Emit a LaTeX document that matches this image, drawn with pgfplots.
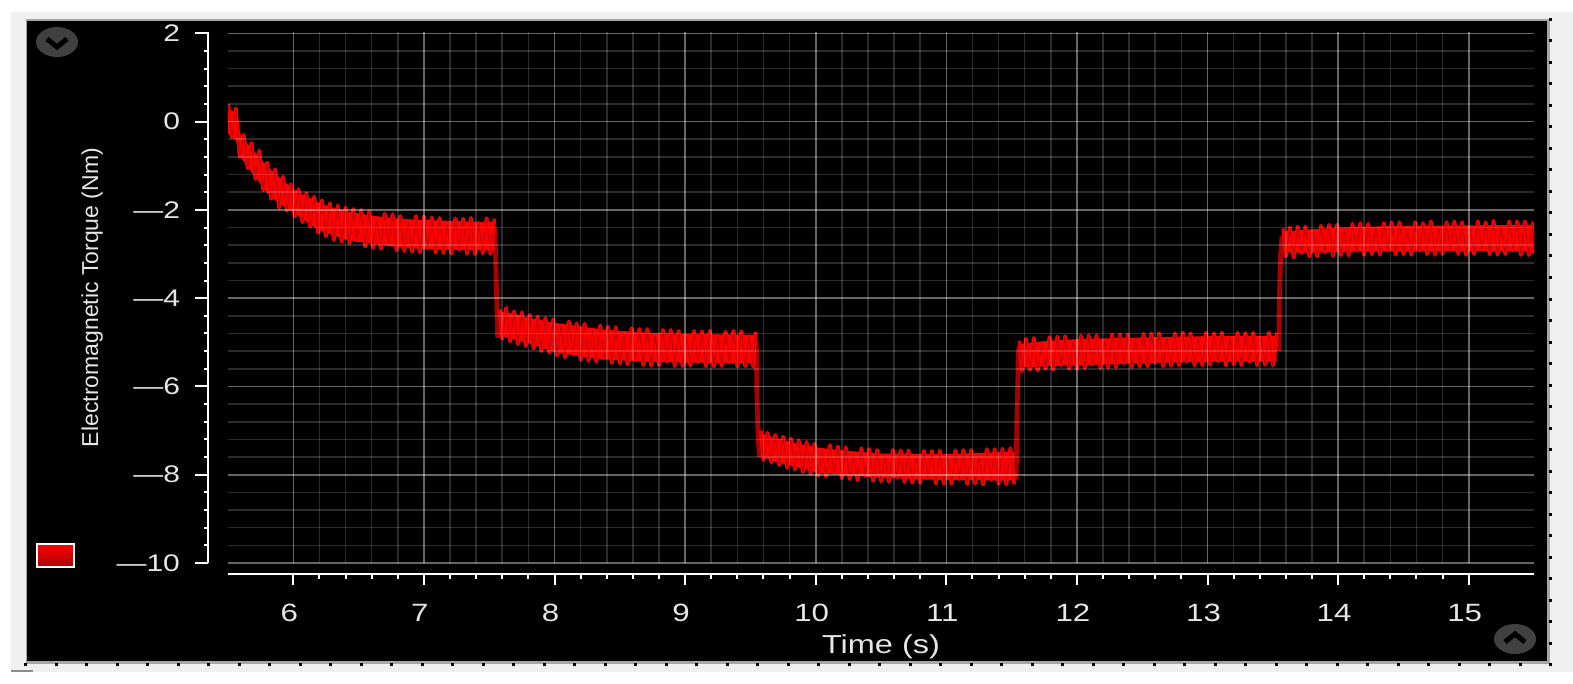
\documentclass[border=0pt]{standalone}
\usepackage{pgfplots}
\usepackage{pgfplotstable}
\usepackage{fontspec}
\pgfplotsset{compat=1.18}
\setmainfont{Liberation Sans}
\newfontfamily\tickfont[FakeStretch=1.25]{Liberation Sans}
\newfontfamily\ylabfont{Liberation Sans}
\definecolor{tq}{HTML}{FF0000}
\definecolor{tqd}{HTML}{A80000}
\definecolor{lab}{HTML}{E6E6E6}
\pgfplotstableread[row sep=\\]{t y\\
5.50 .40\\5.53 -.35\\5.56 .30\\5.59 -.80\\5.62 -.30\\5.65 -1.05\\5.68 -.48\\5.71 -1.30\\5.74 -.66\\5.77 -1.55\\5.80 -.93\\5.83 -1.75\\5.86 -1.08\\5.89 -1.95\\5.92 -1.25\\5.95 -2.02\\5.98 -1.42\\6.01 -2.15\\6.04 -1.53\\6.07 -2.28\\6.10 -1.62\\6.13 -2.38\\6.16 -1.70\\6.19 -2.52\\6.22 -1.78\\6.25 -2.60\\6.28 -1.85\\6.31 -2.68\\6.34 -1.90\\6.37 -2.72\\6.40 -1.95\\6.43 -2.76\\6.46 -1.98\\6.49 -2.70\\6.52 -2.00\\6.55 -2.83\\6.58 -2.04\\6.61 -2.86\\6.64 -2.22\\6.67 -2.88\\6.70 -2.08\\6.73 -2.78\\6.76 -2.10\\6.79 -2.92\\6.82 -2.14\\6.85 -2.93\\6.88 -2.28\\6.91 -2.95\\6.94 -2.14\\6.97 -2.96\\7.00 -2.15\\7.03 -2.85\\7.06 -2.17\\7.09 -2.97\\7.12 -2.18\\7.15 -2.98\\7.18 -2.32\\7.21 -2.99\\7.24 -2.19\\7.27 -2.90\\7.30 -2.20\\7.33 -2.99\\7.36 -2.18\\7.39 -3.00\\7.42 -2.30\\7.45 -2.98\\7.48 -2.19\\7.51 -3.00\\7.54 -2.20\\
}\segA
\pgfplotstableread[row sep=\\]{t y\\
7.58 -4.25\\7.60 -4.92\\7.63 -4.22\\7.66 -4.98\\7.69 -4.30\\7.72 -5.04\\7.75 -4.32\\7.78 -5.08\\7.81 -4.38\\7.84 -5.14\\7.87 -4.42\\7.90 -5.20\\7.93 -4.45\\7.96 -5.24\\7.99 -4.48\\8.02 -5.30\\8.05 -4.62\\8.08 -5.34\\8.11 -4.53\\8.14 -5.25\\8.17 -4.57\\8.20 -5.40\\8.23 -4.58\\8.26 -5.42\\8.29 -4.72\\8.32 -5.44\\8.35 -4.62\\8.38 -5.36\\8.41 -4.65\\8.44 -5.47\\8.47 -4.66\\8.50 -5.48\\8.53 -4.80\\8.56 -5.50\\8.59 -4.68\\8.62 -5.40\\8.65 -4.70\\8.68 -5.52\\8.71 -4.70\\8.74 -5.53\\8.77 -4.85\\8.80 -5.52\\8.83 -4.72\\8.86 -5.44\\8.89 -4.72\\8.92 -5.54\\8.95 -4.74\\8.98 -5.54\\9.01 -4.88\\9.04 -5.53\\9.07 -4.74\\9.10 -5.45\\9.13 -4.75\\9.16 -5.54\\9.19 -4.74\\9.22 -5.55\\9.25 -4.86\\9.28 -5.53\\9.31 -4.76\\9.34 -5.46\\9.37 -4.74\\9.40 -5.55\\9.43 -4.75\\9.46 -5.54\\9.49 -4.88\\9.52 -5.55\\9.54 -4.76\\
}\segB
\pgfplotstableread[row sep=\\]{t y\\
9.58 -7.00\\9.60 -7.66\\9.63 -7.05\\9.66 -7.72\\9.69 -7.10\\9.72 -7.78\\9.75 -7.14\\9.78 -7.84\\9.81 -7.18\\9.84 -7.88\\9.87 -7.22\\9.90 -7.94\\9.93 -7.26\\9.96 -7.98\\9.99 -7.30\\10.02 -8.02\\10.05 -7.44\\10.08 -8.04\\10.11 -7.33\\10.14 -7.96\\10.17 -7.36\\10.20 -8.08\\10.23 -7.38\\10.26 -8.10\\10.29 -7.52\\10.32 -8.12\\10.35 -7.40\\10.38 -8.02\\10.41 -7.42\\10.44 -8.14\\10.47 -7.44\\10.50 -8.15\\10.53 -7.58\\10.56 -8.16\\10.59 -7.44\\10.62 -8.06\\10.65 -7.45\\10.68 -8.17\\10.71 -7.45\\10.74 -8.18\\10.77 -7.60\\10.80 -8.18\\10.83 -7.46\\10.86 -8.08\\10.89 -7.46\\10.92 -8.20\\10.95 -7.45\\10.98 -8.20\\11.01 -7.60\\11.04 -8.20\\11.07 -7.45\\11.10 -8.10\\11.13 -7.44\\11.16 -8.21\\11.19 -7.44\\11.22 -8.20\\11.25 -7.58\\11.28 -8.22\\11.31 -7.42\\11.34 -8.10\\11.37 -7.42\\11.40 -8.21\\11.43 -7.41\\11.46 -8.22\\11.49 -7.40\\11.52 -8.22\\
}\segC
\pgfplotstableread[row sep=\\]{t y\\
11.56 -4.97\\11.58 -5.65\\11.61 -4.92\\11.64 -5.62\\11.67 -4.90\\11.70 -5.64\\11.73 -5.02\\11.76 -5.60\\11.79 -4.88\\11.82 -5.62\\11.85 -4.87\\11.88 -5.52\\11.91 -4.86\\11.94 -5.60\\11.97 -4.98\\12.00 -5.60\\12.03 -4.85\\12.06 -5.58\\12.09 -4.84\\12.12 -5.50\\12.15 -4.84\\12.18 -5.58\\12.21 -4.96\\12.24 -5.57\\12.27 -4.82\\12.30 -5.56\\12.33 -4.82\\12.36 -5.48\\12.39 -4.82\\12.42 -5.56\\12.45 -4.94\\12.48 -5.55\\12.51 -4.81\\12.54 -5.54\\12.57 -4.80\\12.60 -5.46\\12.63 -4.80\\12.66 -5.54\\12.69 -4.92\\12.72 -5.53\\12.75 -4.80\\12.78 -5.52\\12.81 -4.78\\12.84 -5.44\\12.87 -4.80\\12.90 -5.52\\12.93 -4.92\\12.96 -5.52\\12.99 -4.78\\13.02 -5.51\\13.05 -4.80\\13.08 -5.43\\13.11 -4.78\\13.14 -5.52\\13.17 -4.92\\13.20 -5.50\\13.23 -4.78\\13.26 -5.52\\13.29 -4.79\\13.32 -5.44\\13.35 -4.78\\13.38 -5.52\\13.41 -4.90\\13.44 -5.51\\13.47 -4.78\\13.50 -5.52\\13.53 -4.78\\
}\segD
\pgfplotstableread[row sep=\\]{t y\\
13.58 -2.42\\13.60 -3.05\\13.63 -2.40\\13.66 -3.08\\13.69 -2.38\\13.72 -2.98\\13.75 -2.38\\13.78 -3.06\\13.81 -2.48\\13.84 -3.05\\13.87 -2.36\\13.90 -2.96\\13.93 -2.34\\13.96 -3.04\\13.99 -2.34\\14.02 -3.02\\14.05 -2.44\\14.08 -3.03\\14.11 -2.32\\14.14 -2.92\\14.17 -2.30\\14.20 -3.02\\14.23 -2.32\\14.26 -3.00\\14.29 -2.42\\14.32 -3.02\\14.35 -2.30\\14.38 -2.92\\14.41 -2.28\\14.44 -3.01\\14.47 -2.28\\14.50 -3.00\\14.53 -2.42\\14.56 -3.02\\14.59 -2.28\\14.62 -2.92\\14.65 -2.30\\14.68 -3.00\\14.71 -2.26\\14.74 -3.02\\14.77 -2.40\\14.80 -3.00\\14.83 -2.28\\14.86 -2.90\\14.89 -2.26\\14.92 -3.00\\14.95 -2.28\\14.98 -3.02\\15.01 -2.40\\15.04 -3.00\\15.07 -2.26\\15.10 -2.90\\15.13 -2.28\\15.16 -3.00\\15.19 -2.25\\15.22 -3.02\\15.25 -2.38\\15.28 -3.00\\15.31 -2.26\\15.34 -2.92\\15.37 -2.26\\15.40 -3.02\\15.43 -2.26\\15.46 -3.02\\15.49 -2.30\\15.50 -3.00\\
}\segE
\begin{document}
\begin{tikzpicture}
\begin{scope}[x=0.5pt,y=-0.5pt]
\useasboundingbox (0,0) rectangle (1573,684);
\fill[white] (0,0) rectangle (1573,684);
\fill[black!6] (11,12) rectangle (1573,672);
\fill[black!45] (11,670) rectangle (33,672);
\fill[black!35] (26,19) rectangle (1550,664);
\fill[black] (27,21) rectangle (1547,661);
\foreach \i in {0,...,49}{\fill[black] ({24+30.5*\i},663) rectangle ++(3,3);}
\foreach \i in {0,...,30}{\fill[black] (1549,{664-21.5*\i-1}) rectangle ++(3,3);}
% scroll buttons
\fill[black!75!white] (57,42) ellipse (21 and 15);
\draw[black,line width=2.5pt] (47,39) -- (57,47) -- (67,39);
\fill[black!75!white] (1515,639) ellipse (21 and 15);
\draw[black,line width=2.5pt] (1505,642) -- (1515,634) -- (1525,642);
% colour swatch
\shade[top color=red,middle color=red,bottom color=tqd,draw=white,line width=1pt] (37,544) rectangle (74,567);
\end{scope}
% main plot
\begin{axis}[at={(114pt,-281.5pt)},anchor=south west,scale only axis,width=653pt,height=265.5pt,
  xmin=5.5,xmax=15.5,ymin=-10,ymax=2.03,
  xtick={6,...,15},ytick={-10,-8,...,2},minor x tick num=4,minor y tick num=4,
  xticklabels={},yticklabels={},
  major tick length=0pt,minor tick length=0pt,
  grid=both,axis on top,axis line style={draw=none},
  major grid style={draw=white,opacity=0.4,line width=0.8pt},
  minor grid style={draw=white,opacity=0.17,line width=0.8pt},
  every axis plot/.append style={line join=round},
  clip=true]
\addplot[tqd,line width=2.4pt] coordinates {(7.545,-2.4)(7.55,-3.2)(7.56,-4.3)(7.565,-4.9)};
\addplot[tqd,line width=2.4pt] coordinates {(9.545,-5.0)(9.55,-6.2)(9.56,-7.2)(9.57,-7.6)};
\addplot[tqd,line width=2.4pt] coordinates {(11.535,-8.1)(11.54,-6.8)(11.55,-5.6)(11.555,-5.1)};
\addplot[tqd,line width=2.4pt] coordinates {(13.545,-5.2)(13.55,-4.0)(13.56,-3.0)(13.57,-2.6)};
% solid body of the band, from its upper and lower envelope
\addplot[fill=tq,draw=none] coordinates {(5.5,.3)(5.56,.2)(5.6,-.33)(5.7,-.68)(5.8,-1.01)(5.9,-1.28)(6,-1.53)(6.1,-1.7)(6.2,-1.84)(6.3,-1.95)(6.4,-2.03)(6.6,-2.13)(6.8,-2.2)(7,-2.23)(7.54,-2.28)(7.54,-2.92)(7,-2.89)(6.8,-2.84)(6.6,-2.77)(6.4,-2.67)(6.3,-2.57)(6.2,-2.47)(6.1,-2.27)(6,-2.05)(5.9,-1.87)(5.8,-1.62)(5.7,-1.22)(5.6,-.82)(5.56,-.42)(5.5,-.27)} -- cycle;
\addplot[fill=tq,draw=none] coordinates {(7.58,-4.3)(7.7,-4.36)(7.8,-4.44)(8,-4.56)(8.2,-4.64)(8.4,-4.72)(8.7,-4.78)(9,-4.81)(9.54,-4.83)(9.54,-5.47)(9,-5.46)(8.7,-5.44)(8.4,-5.39)(8.2,-5.32)(8,-5.22)(7.8,-5.02)(7.7,-4.94)(7.58,-4.84)} -- cycle;
\addplot[fill=tq,draw=none] coordinates {(9.58,-7.07)(9.7,-7.17)(9.85,-7.29)(10,-7.38)(10.2,-7.45)(10.5,-7.52)(11,-7.53)(11.52,-7.48)(11.52,-8.13)(11,-8.12)(10.5,-8.07)(10.2,-8.0)(10,-7.94)(9.85,-7.82)(9.7,-7.72)(9.58,-7.58)} -- cycle;
\addplot[fill=tq,draw=none] coordinates {(11.56,-5.04)(11.8,-4.96)(12,-4.93)(12.5,-4.89)(13,-4.86)(13.53,-4.86)(13.53,-5.44)(13,-5.44)(12.5,-5.47)(12,-5.52)(11.8,-5.54)(11.56,-5.57)} -- cycle;
\addplot[fill=tq,draw=none] coordinates {(13.58,-2.49)(13.8,-2.44)(14,-2.4)(14.5,-2.36)(15,-2.35)(15.5,-2.34)(15.5,-2.93)(15,-2.93)(14.5,-2.93)(14,-2.95)(13.8,-2.97)(13.58,-2.97)} -- cycle;
% the oscillating trace
\addplot[tq,line width=1.9pt] table {\segA};
\addplot[tq,line width=1.9pt] table {\segB};
\addplot[tq,line width=1.9pt] table {\segC};
\addplot[tq,line width=1.9pt] table {\segD};
\addplot[tq,line width=1.9pt] table {\segE};
\addplot[tqd,line width=0.45pt,opacity=0.7] table {\segA};
\addplot[tqd,line width=0.45pt,opacity=0.7] table {\segB};
\addplot[tqd,line width=0.45pt,opacity=0.7] table {\segC};
\addplot[tqd,line width=0.45pt,opacity=0.7] table {\segD};
\addplot[tqd,line width=0.45pt,opacity=0.7] table {\segE};
\end{axis}
% y axis
\begin{axis}[at={(104pt,-281.5pt)},anchor=south west,scale only axis,width=5pt,height=265.5pt,
  xmin=0,xmax=1,ymin=-10,ymax=2.03,
  axis y line=left,axis x line=none,
  ytick={-10,-8,...,2},minor y tick num=4,
  yticklabels={—10,—8,—6,—4,—2,0,2},
  tick align=outside,
  major tick length=6.5pt,minor tick length=2pt,
  every tick/.style={draw=white,line width=1pt},
  minor tick style={draw=white,line width=1pt},
  axis line style={draw=white,line width=1.2pt,-},
  ylabel={Electromagnetic Torque (Nm)},
  ylabel style={text=lab,font=\ylabfont\fontsize{11.5}{12}\selectfont,at={(ticklabel cs:0.5)},yshift=0pt},
  yticklabel style={text=lab,font=\tickfont\fontsize{12}{12}\selectfont,anchor=east,xshift=-4pt}]
\addplot[draw=none,forget plot] coordinates {(0,0)};
\end{axis}
% x axis
\begin{axis}[at={(114pt,-287pt)},anchor=south west,scale only axis,width=653pt,height=5pt,
  xmin=5.5,xmax=15.5,ymin=0,ymax=1,
  axis x line=bottom,axis y line=none,
  xtick={6,...,15},minor x tick num=4,
  tick align=outside,
  major tick length=5.5pt,minor tick length=2.5pt,
  every tick/.style={draw=white,line width=1pt},
  minor tick style={draw=white,line width=1pt},
  axis line style={draw=white,line width=1.2pt,-},
  xlabel={Time (s)},
  xlabel style={text=lab,font=\tickfont\fontsize{13}{13}\selectfont,yshift=0.5pt},
  xticklabel style={text=lab,font=\tickfont\fontsize{12.5}{12.5}\selectfont,xshift=-2pt,yshift=-6pt},
  /pgf/number format/assume math mode=true]
\addplot[draw=none,forget plot] coordinates {(6,0)};
\end{axis}
\end{tikzpicture}
\end{document}
